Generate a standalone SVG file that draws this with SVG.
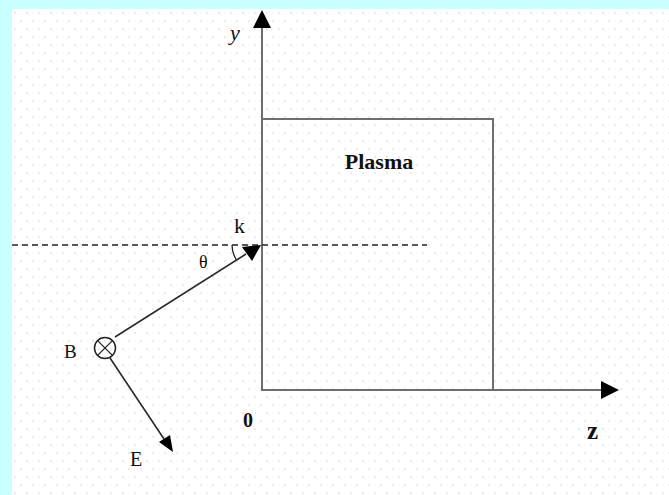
<svg xmlns="http://www.w3.org/2000/svg" width="669" height="495" viewBox="0 0 669 495">
<style>
.lbl{font-family:"Liberation Serif","Times New Roman",serif;fill:#111}
.axis{stroke:#6e6e6e;stroke-width:2;fill:none}
.vec{stroke:#2a2a2a;stroke-width:1.6;fill:none}
</style>
<defs>
<pattern id="dots" x="12" y="9" width="12" height="16" patternUnits="userSpaceOnUse">
<circle cx="3" cy="4" r="0.9" fill="#e2e2e2"/>
<circle cx="9" cy="12" r="0.9" fill="#e2e2e2"/>
</pattern>
</defs>
<rect x="0" y="0" width="669" height="495" fill="#c8ffff"/>
<rect x="12" y="9" width="657" height="486" fill="#fff"/>
<rect x="12" y="9" width="657" height="486" fill="url(#dots)"/>

<g id="plasma">
<rect x="262" y="119" width="231" height="271" class="axis"/>
<text class="lbl" x="379" y="169" font-size="22" font-weight="bold" text-anchor="middle">Plasma</text>
</g>

<g id="connectors">
<line x1="262" y1="390" x2="262" y2="27" class="axis"/>
<path d="M262,10 L271,28 L253,28 Z" fill="#000"/>
<line x1="262" y1="390" x2="601" y2="390" class="axis"/>
<path d="M619,390 L601,381 L601,399 Z" fill="#000"/>
<line x1="12" y1="245" x2="427" y2="245" stroke="#222" stroke-width="1.5" stroke-dasharray="6 4"/>
<line x1="115" y1="337" x2="246" y2="254" class="vec"/>
<path d="M261,245 L252,261 L242,247 Z" fill="#000"/>
<line x1="110" y1="358" x2="164" y2="439" class="vec"/>
<path d="M173,452 L159,442 L170,435 Z" fill="#000"/>
<path d="M232,245 A28,28 0 0 0 236.5,260" fill="none" stroke="#222" stroke-width="1.3"/>
</g>

<g id="B">
<circle cx="105" cy="348" r="10.5" fill="none" stroke="#222" stroke-width="1.5"/>
<line x1="97.6" y1="340.6" x2="112.4" y2="355.4" stroke="#222" stroke-width="1.3"/>
<line x1="112.4" y1="340.6" x2="97.6" y2="355.4" stroke="#222" stroke-width="1.3"/>
<text class="lbl" x="64" y="358" font-size="19">B</text>
</g>

<g id="labels">
<text class="lbl" x="230" y="40" font-size="22" font-style="italic">y</text>
<text class="lbl" x="234" y="233" font-size="22">k</text>
<text class="lbl" x="199" y="268" font-size="18">θ</text>
<text class="lbl" x="130" y="466" font-size="20">E</text>
<text class="lbl" x="243" y="427" font-size="20" font-weight="bold">0</text>
<text class="lbl" x="587" y="439" font-size="25" font-weight="bold">z</text>
</g>
</svg>
